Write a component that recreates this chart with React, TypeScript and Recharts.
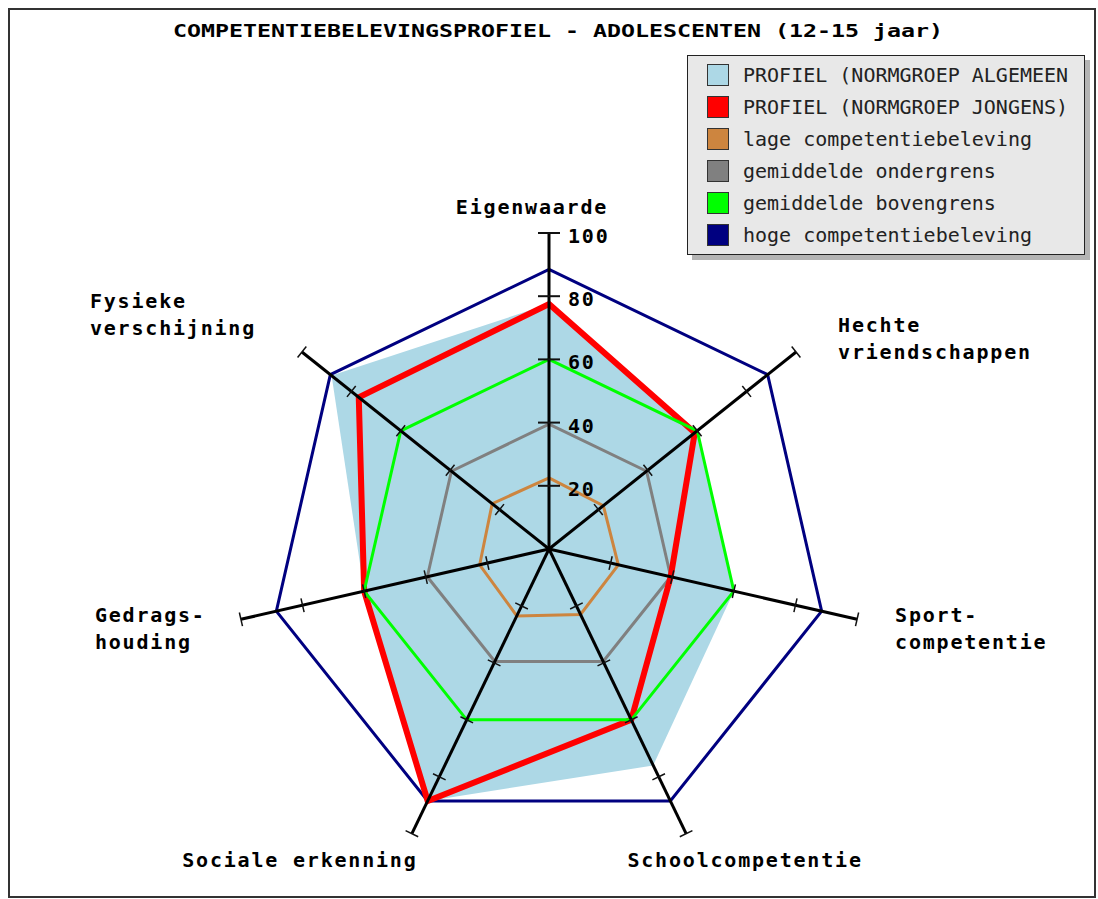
import { RadarChart, Radar, PolarAngleAxis, PolarRadiusAxis, Legend } from 'recharts';

const categories = [
    'Eigenwaarde',
    'Hechte vriendschappen',
    'Sport-competentie',
    'Schoolcompetentie',
    'Sociale erkenning',
    'Gedrags-houding',
    'Fysieke verschijning',
];

// labels as they are broken over lines in the picture
const labelLines = [
    ['Eigenwaarde'],
    ['Hechte', 'vriendschappen'],
    ['Sport-', 'competentie'],
    ['Schoolcompetentie'],
    ['Sociale erkenning'],
    ['Gedrags-', 'houding'],
    ['Fysieke', 'verschijning'],
];

const algemeen = [77.5, 60, 60, 76, 88.5, 60, 88];
const jongens = [77.5, 59, 39.5, 60, 88.5, 60, 77];
const lage = [22.5, 22, 22.5, 23, 23.5, 22.5, 23];
const onder = [39.5, 39.5, 39.5, 39.5, 39.5, 39.5, 39.5];
const boven = [60, 60, 60, 60, 60, 60, 60];
const hoge = [88.5, 88.5, 88.5, 88.5, 88.5, 88.5, 88.5];

const radiusTicks = [20, 40, 60, 80, 100];

const seriesNames = [
    'PROFIEL (NORMGROEP ALGEMEEN',
    'PROFIEL (NORMGROEP JONGENS)',
    'lage competentiebeleving',
    'gemiddelde ondergrens',
    'gemiddelde bovengrens',
    'hoge competentiebeleving',
];
const seriesColors = ['#add8e6', '#ff0000', '#cd853f', '#808080', '#00ff00', '#000080'];

const data = categories.map((cat, i) => ({
    cat,
    algemeen: algemeen[i],
    jongens: jongens[i],
    lage: lage[i],
    onder: onder[i],
    boven: boven[i],
    hoge: hoge[i],
}));

const W = 1098;
const H = 899;
const CX = 549;
const CY = 549;
const OUTER_R = 316;
const MONO = "'DejaVu Sans Mono', monospace";

// label offsets from the end of each axis: [dx, dy of first baseline, anchor]
const labelPos: [number, number, string][] = [
    [-17, -19, 'middle'],
    [42, -20, 'start'],
    [38, 3, 'start'],
    [59, 33, 'middle'],
    [-112, 33, 'middle'],
    [-146, 3, 'start'],
    [-212, -44, 'start'],
];

const polar = (r: number, angle: number) => {
    const rad = (-angle * Math.PI) / 180;
    return { x: CX + r * Math.cos(rad), y: CY + r * Math.sin(rad) };
};

const AxisTick = (props: any) => {
    const { payload, index } = props;
    const angle = payload.coordinate;
    const end = polar(OUTER_R, angle);
    const rad = (-angle * Math.PI) / 180;
    // perpendicular direction for tick marks
    const px = -Math.sin(rad);
    const py = Math.cos(rad);
    const half = index === 0 ? 11 : 7;
    const [dx, dy, anchor] = labelPos[index];
    return (
        <g>
            <line x1={CX} y1={CY} x2={end.x} y2={end.y} stroke="#000" strokeWidth={3} />
            {radiusTicks.map((v) => {
                const p = polar((OUTER_R * v) / 100, angle);
                return (
                    <line
                        key={v}
                        x1={p.x - px * half}
                        y1={p.y - py * half}
                        x2={p.x + px * half}
                        y2={p.y + py * half}
                        stroke="#111"
                        strokeWidth={index === 0 ? 2 : 1.5}
                    />
                );
            })}
            <text
                x={end.x + dx}
                y={end.y + dy}
                textAnchor={anchor as any}
                fontFamily={MONO}
                fontWeight="bold"
                fontSize={20}
                letterSpacing={1.8}
                fill="#000"
            >
                {labelLines[index].map((line, k) => (
                    <tspan key={k} x={end.x + dx} dy={k === 0 ? 0 : 27}>
                        {line}
                    </tspan>
                ))}
            </text>
        </g>
    );
};

const RadiusTick = (props: any) => {
    const { x, y, payload } = props;
    if (!payload || payload.value === 0) return null;
    return (
        <text x={x + 19} y={y + 10} fontFamily={MONO} fontWeight="bold" fontSize={20} letterSpacing={1.8} fill="#000">
            {payload.value}
        </text>
    );
};

const LegendBox = (props: any) => {
    const items = [...(props.payload || [])].sort(
        (a: any, b: any) => seriesNames.indexOf(a.value) - seriesNames.indexOf(b.value)
    );
    return (
        <div
            style={{
                width: 398,
                height: 200,
                background: '#e8e8e8',
                border: '1px solid #222',
                boxShadow: '5px 5px 0 #b4b4b4',
                padding: '3px 0 0 19px',
                boxSizing: 'border-box',
            }}
        >
            {items.map((item: any) => (
                <div key={item.value} style={{ display: 'flex', alignItems: 'center', height: 32 }}>
                    <span
                        style={{
                            width: 20,
                            height: 20,
                            background: seriesColors[seriesNames.indexOf(item.value)],
                            border: '1px solid #333',
                            marginRight: 14,
                            flexShrink: 0,
                        }}
                    />
                    <span style={{ fontFamily: MONO, fontSize: 20, color: '#222', whiteSpace: 'nowrap' }}>
                        {item.value}
                    </span>
                </div>
            ))}
        </div>
    );
};

export default function App() {
    return (
        <div style={{ position: 'absolute', left: 0, top: 0, width: W, height: H, background: '#fff' }}>
            <RadarChart
                width={W}
                height={H}
                data={data}
                cx={CX}
                cy={CY}
                outerRadius={OUTER_R}
                startAngle={90}
                endAngle={-270}
                margin={{ top: 0, right: 0, bottom: 0, left: 0 }}
            >
                <rect x={9} y={9} width={1086} height={888} fill="none" stroke="#333" strokeWidth={2} />
                <text
                    x={558}
                    y={37}
                    textAnchor="middle"
                    fontFamily={MONO}
                    fontWeight="bold"
                    fontSize={18}
                    textLength={770}
                    lengthAdjust="spacingAndGlyphs"
                    fill="#000"
                >
                    COMPETENTIEBELEVINGSPROFIEL - ADOLESCENTEN (12-15 jaar)
                </text>
                <Radar
                    name={seriesNames[0]}
                    dataKey="algemeen"
                    fill={seriesColors[0]}
                    fillOpacity={1}
                    stroke="none"
                    dot={false}
                    activeDot={false}
                    legendType="square"
                    isAnimationActive={false}
                />
                <Radar name={seriesNames[2]} dataKey="lage" fill="none" stroke={seriesColors[2]} strokeWidth={3} dot={false} activeDot={false} legendType="square" isAnimationActive={false} />
                <Radar name={seriesNames[3]} dataKey="onder" fill="none" stroke={seriesColors[3]} strokeWidth={3} dot={false} activeDot={false} legendType="square" isAnimationActive={false} />
                <Radar name={seriesNames[5]} dataKey="hoge" fill="none" stroke={seriesColors[5]} strokeWidth={3} dot={false} activeDot={false} legendType="square" isAnimationActive={false} />
                <Radar name={seriesNames[1]} dataKey="jongens" fill="none" stroke={seriesColors[1]} strokeWidth={6} dot={false} activeDot={false} legendType="square" isAnimationActive={false} />
                <Radar name={seriesNames[4]} dataKey="boven" fill="none" stroke={seriesColors[4]} strokeWidth={3} dot={false} activeDot={false} legendType="square" isAnimationActive={false} />
                <PolarAngleAxis dataKey="cat" tick={AxisTick} tickLine={false} axisLine={false} />
                <PolarRadiusAxis
                    angle={90}
                    domain={[0, 100]}
                    tickCount={6}
                    tick={RadiusTick}
                    axisLine={false}
                    tickLine={false}
                />
                <Legend
                    content={LegendBox}
                    wrapperStyle={{ position: 'absolute', left: 687, top: 55, width: 398, height: 200 }}
                />
            </RadarChart>
        </div>
    );
}
